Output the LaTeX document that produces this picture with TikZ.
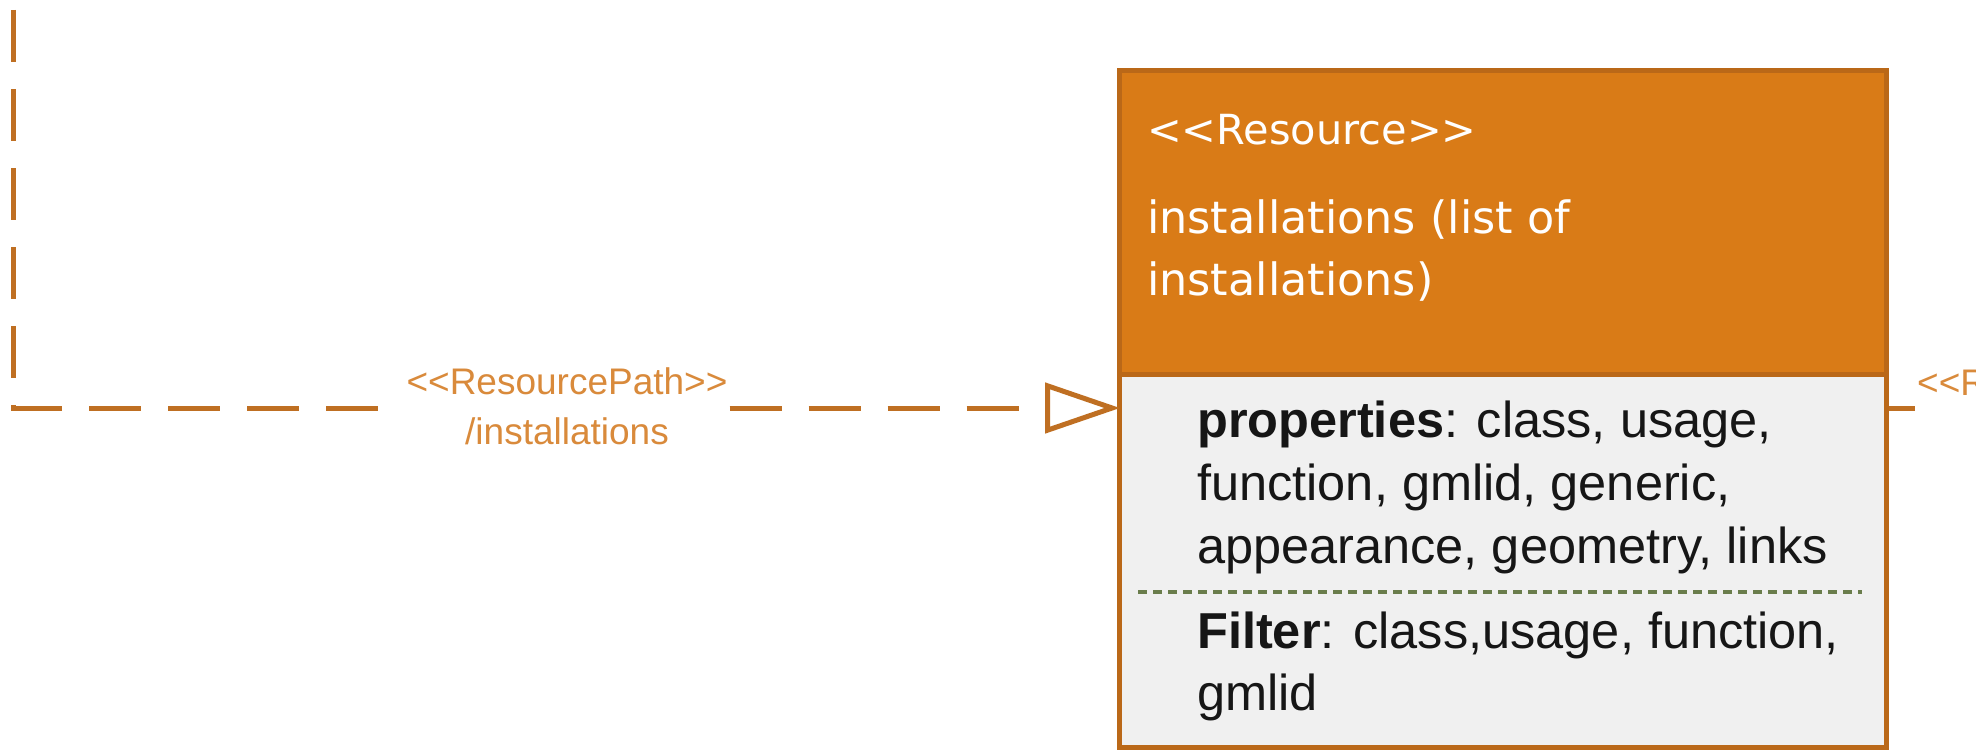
\documentclass[tikz,border=0pt]{standalone}
\usepackage{fontspec}
\setmainfont{Liberation Sans}
\newfontfamily\headfont{DejaVu Sans}
\usetikzlibrary{arrows.meta}

\definecolor{classfill}{HTML}{D97B17}
\definecolor{classline}{HTML}{BA6818}
\definecolor{attrfill}{HTML}{F0F0F0}
\definecolor{linkline}{HTML}{BF6F22}
\definecolor{linktext}{HTML}{D98A3B}
\definecolor{sepline}{HTML}{6A7D4C}
\definecolor{attrink}{HTML}{161616}

% guillemet-free double angle brackets
\newcommand\llt{<\kern0pt<}
\newcommand\ggt{>\kern0pt>}

\tikzset{
  compartment/.style={draw=classline, line width=5pt, anchor=north west,
    inner sep=0pt, minimum width=767pt},
  headtext/.style={anchor=base west, inner sep=0pt, text=white,
    font=\headfont\fontsize{41.5}{62}\selectfont},
  nametext/.style={headtext, font=\headfont\fontsize{44.5}{62}\selectfont},
  attrtext/.style={anchor=base west, inner sep=0pt, text=attrink,
    font=\fontsize{50.5}{63}\selectfont},
  pathlabel/.style={inner sep=2pt, align=center, text=linktext,
    font=\fontsize{37}{50}\selectfont},
  realizes/.style={draw=linkline, line width=5pt, dash pattern=on 52pt off 27pt},
  separator/.style={draw=sepline, line width=4.5pt, dash pattern=on 9pt off 6pt},
}

\begin{document}
\begin{tikzpicture}[x=1pt,y=-1pt]
\useasboundingbox (0,0) rectangle (1976,752);
\clip (0,0) rectangle (1976,752);
\fill[white] (0,0) rectangle (1976,752);

% resource class: header and attribute compartments
\node[compartment, fill=classfill, minimum height=304pt] (head) at (1117,68) {};
\node[compartment, fill=attrfill, minimum height=373pt] (body) at (1117,372) {};

\node[headtext] (stereo) at (1147,144) {\llt Resource\ggt};
\node[nametext] (name1) at (1147,233) {installations (list of};
\node[nametext] (name2) at (1147,295) {installations)};

\node[attrtext] (prop1) at (1197,437) {\textbf{properties}: class, usage,};
\node[attrtext] (prop2) at (1197,500) {function, gmlid, generic,};
\node[attrtext] (prop3) at (1197,563) {appearance, geometry, links};
\draw[separator] (1138,592) -- (1862,592);
\node[attrtext] (filt1) at (1197,648) {\textbf{Filter}: class,usage, function,};
\node[attrtext] (filt2) at (1197,710) {gmlid};

% incoming resource path
\coordinate (src) at (13,10);
\coordinate (bend) at (13,408);
\node[pathlabel, fill=white] (lbl) at (567,406) {\llt ResourcePath\ggt\\/installations};
\draw[realizes] (src) -- (bend) -- (lbl.west |- bend);
\draw[realizes, -{Triangle[open, length=75pt, width=50pt]}]
  (lbl.east |- bend) -- ([xshift=3pt]body.west |- bend);

% outgoing resource path
\node[pathlabel, anchor=base west] (lblR) at (1915,395) {\llt ResourcePath\ggt};
\draw[realizes] (body.east |- bend) -- (lblR.west |- bend);
\end{tikzpicture}
\end{document}
